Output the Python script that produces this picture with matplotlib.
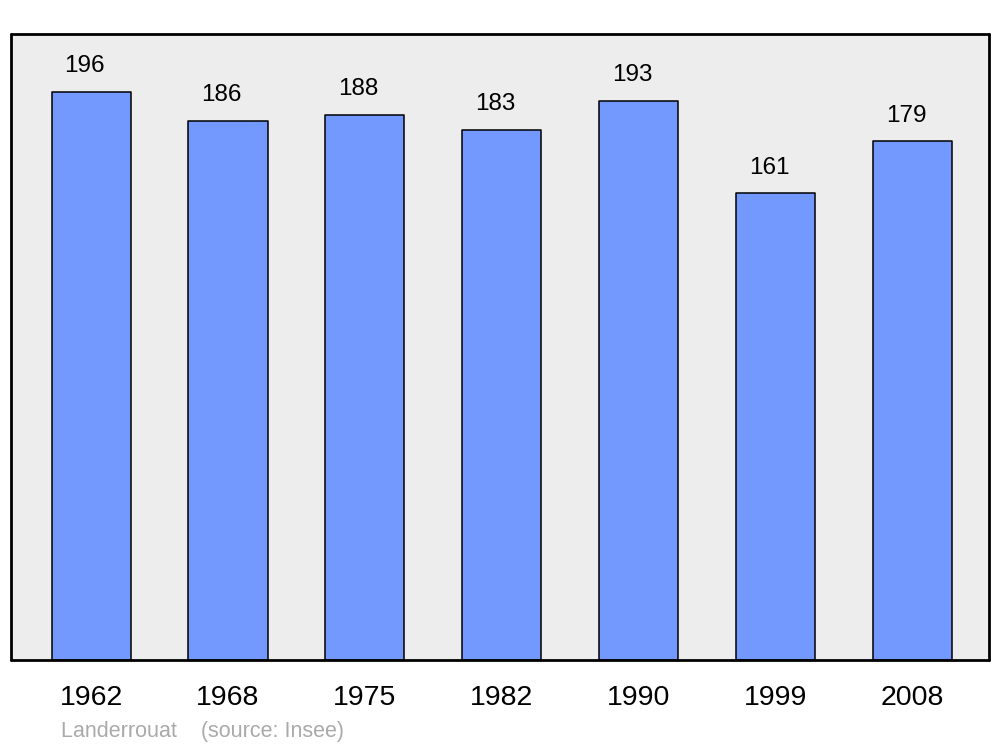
import matplotlib.pyplot as plt

plt.rcParams['font.family'] = ['Liberation Sans', 'DejaVu Sans']

years = ['1962', '1968', '1975', '1982', '1990', '1999', '2008']
population = [196, 186, 188, 183, 193, 161, 179]

fig = plt.figure(figsize=(10, 7.47), dpi=100)
ax = fig.add_axes([0.011, 1 - 660 / 747, 0.978, 626 / 747])
ax.set_facecolor('#ededed')

x = list(range(len(years)))
ax.bar(x, population, width=0.578, color='#7399ff', edgecolor='black',
       linewidth=1.1, joinstyle='round', zorder=2)

for xi, v in zip(x, population):
    ax.annotate(str(v), (xi, v), xytext=(-4.5, 18.5), textcoords='offset points',
                ha='center', va='center', fontsize=17.5)

ax.set_xlim(-0.585, 6.56)
ax.set_ylim(0, 216)
ax.set_yticks([])
ax.set_xticks(x)
ax.set_xticklabels(years, fontsize=20.5)
ax.tick_params(axis='x', length=0, pad=18)
for s in ax.spines.values():
    s.set_linewidth(2)
    s.set_capstyle('round')

fig.text(0.061, 1 - 731 / 747, 'Landerrouat    (source: Insee)', color='#aaaaaa',
         fontsize=15.5, va='center', ha='left')

fig.savefig('out.png', dpi=100)
